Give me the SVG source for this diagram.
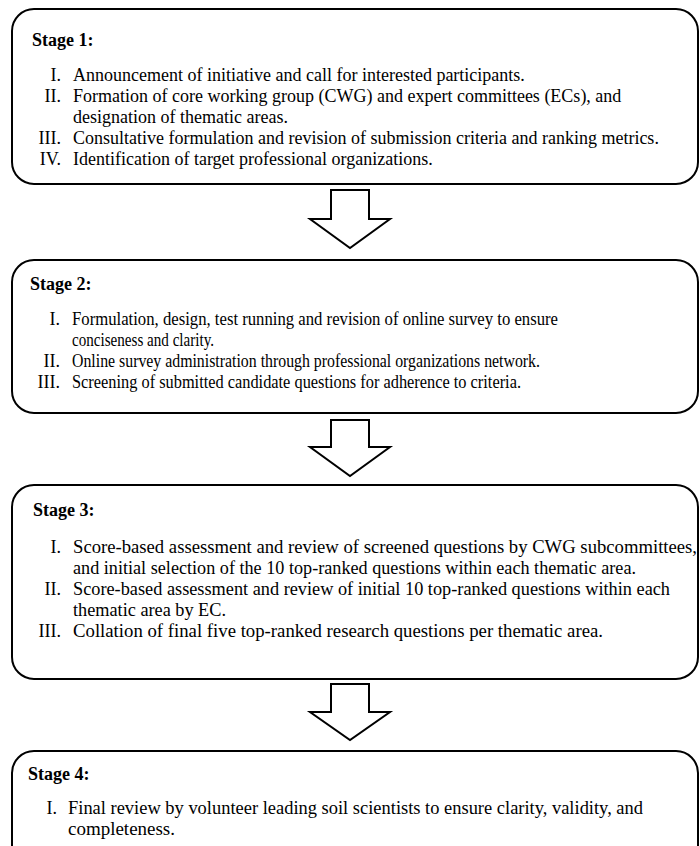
<svg xmlns="http://www.w3.org/2000/svg" width="700" height="846" viewBox="0 0 700 846">
<style>
.box{fill:#fff;stroke:#000;stroke-width:2}
.arr{fill:#fff;stroke:#000;stroke-width:2;stroke-linejoin:miter}
text{font-family:"Liberation Serif","Times New Roman",serif;font-size:18px;fill:#000}
.h{font-weight:bold}
.n{text-anchor:end}
</style>
<rect width="700" height="846" fill="#fff"/>
<g id="connectors">
<polygon class="arr" points="331,190 369,190 369,219 390,219 350,248 310,219 331,219"/>
<polygon class="arr" points="331,420 369,420 369,447 390,447 350,476 310,447 331,447"/>
<polygon class="arr" points="331,684 369,684 369,712 390,712 350,740 310,712 331,712"/>
</g>
<g id="stage1">
<rect class="box" x="12" y="9" width="686" height="175" rx="22"/>
<text class="h" x="32" y="46">Stage 1:</text>
<text class="n" x="61" y="81">I.</text>
<text x="73" y="81">Announcement of initiative and call for interested participants.</text>
<text class="n" x="61" y="102">II.</text>
<text x="73" y="102">Formation of core working group (CWG) and expert committees (ECs), and</text>
<text x="73" y="123">designation of thematic areas.</text>
<text class="n" x="61" y="144">III.</text>
<text x="73" y="144">Consultative formulation and revision of submission criteria and ranking metrics.</text>
<text class="n" x="61" y="165">IV.</text>
<text x="73" y="165">Identification of target professional organizations.</text>
</g>
<g id="stage2">
<rect class="box" x="12" y="260" width="686" height="153" rx="22"/>
<text class="h" x="30" y="290">Stage 2:</text>
<text class="n" x="60" y="325">I.</text>
<text x="72" y="325" textLength="486" lengthAdjust="spacingAndGlyphs">Formulation, design, test running and revision of online survey to ensure</text>
<text x="72" y="346" textLength="142" lengthAdjust="spacingAndGlyphs">conciseness and clarity.</text>
<text class="n" x="60" y="367">II.</text>
<text x="72" y="367" textLength="468" lengthAdjust="spacingAndGlyphs">Online survey administration through professional organizations network.</text>
<text class="n" x="60" y="388">III.</text>
<text x="72" y="388" textLength="449" lengthAdjust="spacingAndGlyphs">Screening of submitted candidate questions for adherence to criteria.</text>
</g>
<g id="stage3">
<rect class="box" x="12" y="485" width="686" height="194" rx="22"/>
<text class="h" x="33" y="516">Stage 3:</text>
<text class="n" x="61" y="553">I.</text>
<text x="73" y="553" textLength="624" lengthAdjust="spacingAndGlyphs">Score-based assessment and review of screened questions by CWG subcommittees,</text>
<text x="73" y="574" textLength="563" lengthAdjust="spacingAndGlyphs">and initial selection of the 10 top-ranked questions within each thematic area.</text>
<text class="n" x="61" y="595">II.</text>
<text x="73" y="595" textLength="597" lengthAdjust="spacingAndGlyphs">Score-based assessment and review of initial 10 top-ranked questions within each</text>
<text x="73" y="616" textLength="153" lengthAdjust="spacingAndGlyphs">thematic area by EC.</text>
<text class="n" x="61" y="637">III.</text>
<text x="73" y="637" textLength="530" lengthAdjust="spacingAndGlyphs">Collation of final five top-ranked research questions per thematic area.</text>
</g>
<g id="stage4">
<rect class="box" x="12" y="751" width="686" height="140" rx="22"/>
<text class="h" x="28" y="780">Stage 4:</text>
<text class="n" x="57" y="814">I.</text>
<text x="68" y="814" textLength="575" lengthAdjust="spacingAndGlyphs">Final review by volunteer leading soil scientists to ensure clarity, validity, and</text>
<text x="68" y="835" textLength="107" lengthAdjust="spacingAndGlyphs">completeness.</text>
</g>
</svg>
